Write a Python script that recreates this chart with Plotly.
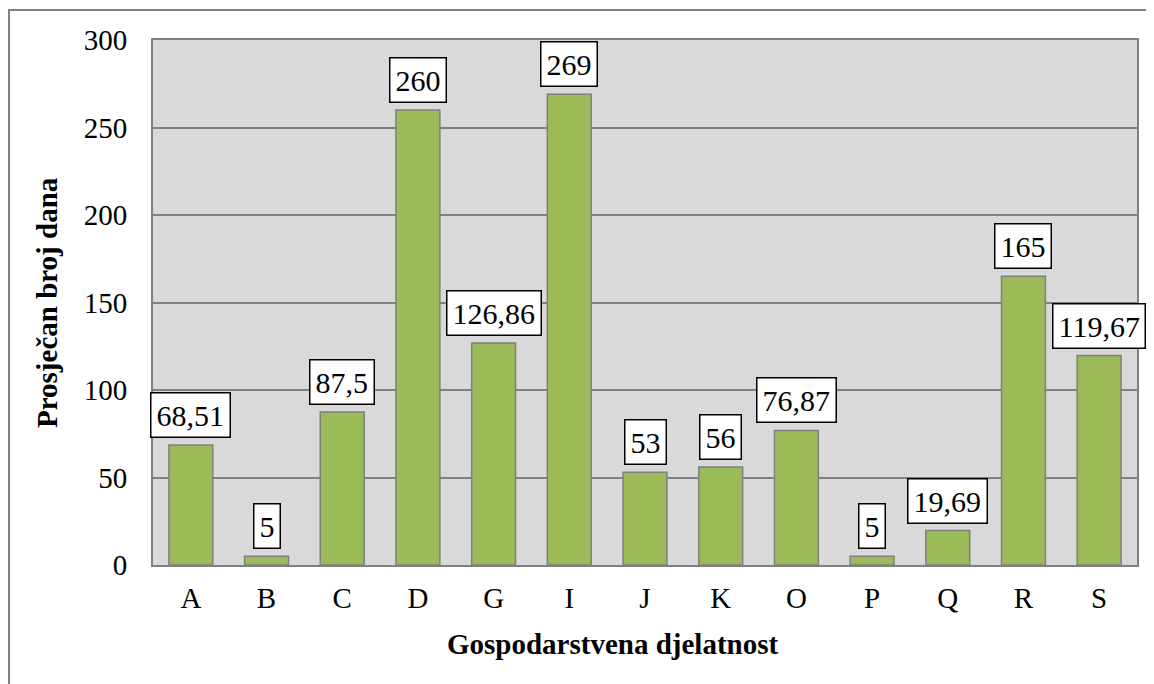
import plotly.graph_objects as go

categories = ["A", "B", "C", "D", "G", "I", "J", "K", "O", "P", "Q", "R", "S"]
values = [68.51, 5, 87.5, 260, 126.86, 269, 53, 56, 76.87, 5, 19.69, 165, 119.67]
value_labels = ["68,51", "5", "87,5", "260", "126,86", "269", "53", "56", "76,87", "5", "19,69", "165", "119,67"]
y_ticks = [0, 50, 100, 150, 200, 250, 300]

FONT = "Liberation Serif"
W, H = 1154, 684
OFF = 8  # page body margin
L, T = 153 - OFF, 40 - OFF
R = W - (1137 - OFF)
B = H - (565 - OFF)

fig = go.Figure()
fig.add_trace(go.Bar(
    x=categories, y=values,
    marker=dict(color="#9BBB59", line=dict(color="#7F7F7F", width=1.5)),
    width=0.58,
))

for c, v, lab in zip(categories, values, value_labels):
    fig.add_annotation(
        x=c, y=v, xref="x", yref="y", text=lab, showarrow=False,
        yanchor="bottom", yshift=7,
        font=dict(family=FONT, size=30, color="black"),
        bgcolor="white", bordercolor="black", borderwidth=1.5, borderpad=5,
    )

pw = W - L - R
ph = H - T - B
def px_x(p):
    return (p - OFF - L) / pw
def px_y(p):
    return (H - B - (p - OFF)) / ph

# outer frame
fig.add_shape(type="rect", xref="paper", yref="paper",
              x0=px_x(9), x1=px_x(1200), y0=px_y(720), y1=px_y(10),
              line=dict(color="#808080", width=2), fillcolor="rgba(0,0,0,0)", layer="below")

fig.add_annotation(x=px_x(612), y=px_y(644), xref="paper", yref="paper",
                   text="<b>Gospodarstvena djelatnost</b>", showarrow=False,
                   font=dict(family=FONT, size=29, color="black"), yanchor="middle")
fig.add_annotation(x=px_x(47), y=px_y(303), xref="paper", yref="paper",
                   text="<b>Prosječan broj dana</b>", showarrow=False, textangle=-90,
                   font=dict(family=FONT, size=29, color="black"), xanchor="center", yanchor="middle")

fig.update_layout(
    width=W, height=H,
    margin=dict(l=L, r=R, t=T, b=B),
    paper_bgcolor="white", plot_bgcolor="#D9D9D9",
    showlegend=False,
    font=dict(family=FONT, size=29, color="black"),
)
fig.update_xaxes(range=[-0.5, len(categories) - 0.5], autorange=False,
                 showline=True, linecolor="#808080", linewidth=2, mirror=True,
                 ticks="", tickfont=dict(family=FONT, size=29), ticklabelstandoff=6)
fig.update_yaxes(range=[0, 300], autorange=False, tickvals=y_ticks, showline=True, linecolor="#808080",
                 linewidth=2, mirror=True, gridcolor="#808080", gridwidth=1.5,
                 zeroline=False, ticks="", tickfont=dict(family=FONT, size=29),
                 ticklabelstandoff=18)

fig.write_html("out.html")
